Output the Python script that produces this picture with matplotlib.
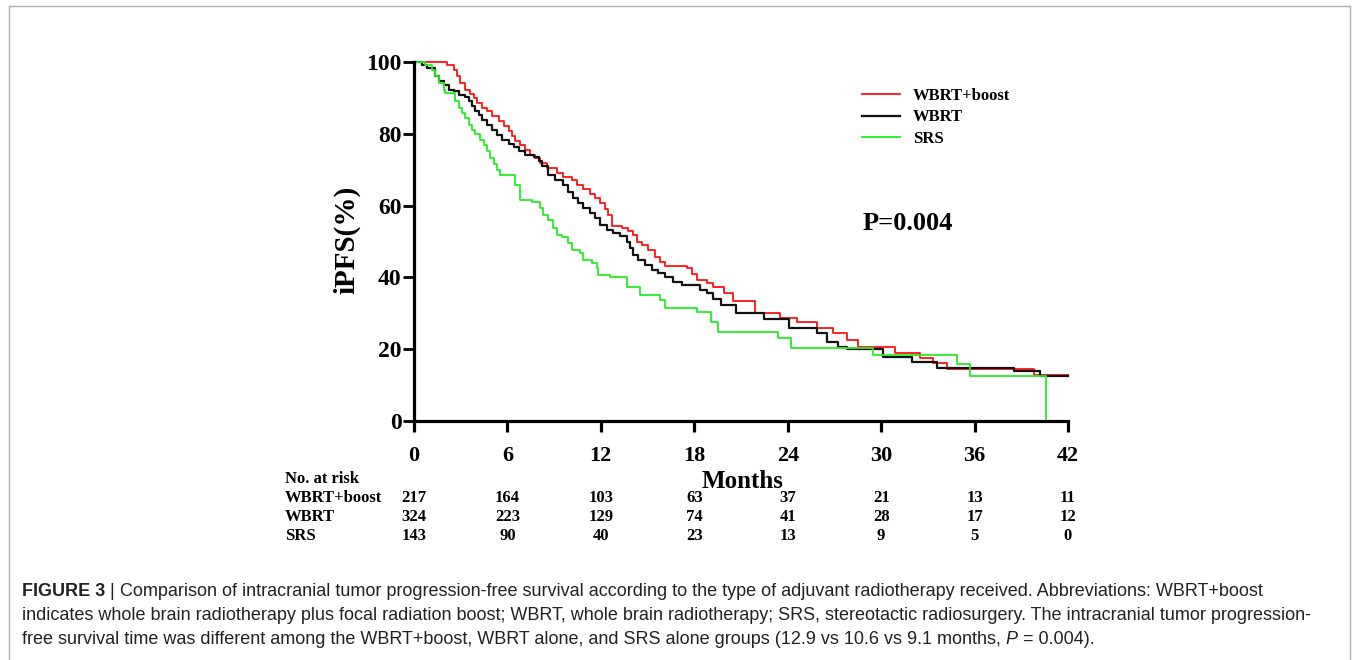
import matplotlib
matplotlib.use("Agg")
import matplotlib.pyplot as plt
from matplotlib.patches import Rectangle
from matplotlib.transforms import blended_transform_factory

# Kaplan-Meier curves (months, iPFS %)
boost_t = [0, 2.1, 2.55, 2.75, 2.98, 3.3, 3.6, 3.83, 4.05, 4.37, 4.69, 5.0, 5.44, 5.76, 6.08,
           6.29, 6.5, 6.83, 7.15, 7.47, 7.79, 8.1, 8.52, 9.16, 9.59, 10.13, 10.45, 10.87, 11.3,
           11.62, 11.95, 12.27, 12.48, 12.7, 13.34, 13.77, 14.09, 14.3, 14.62, 15.05, 15.48,
           15.8, 16.12, 17.5, 17.84, 18.16, 18.8, 19.22, 19.9, 20.5, 21.9, 23.5, 24.6, 25.9,
           26.9, 27.8, 28.5, 30.9, 32.5, 33.3, 34.2, 39.8, 42]
boost_s = [100, 99.1, 97.9, 96.0, 94.2, 92.3, 91.1, 90.0, 88.6, 87.2, 86.3, 84.9, 83.5, 82.1, 80.7,
           79.3, 77.9, 76.8, 75.6, 74.2, 73.3, 71.8, 70.4, 69.2, 68.1, 67.1, 65.7, 64.5, 63.2,
           62.0, 60.6, 59.0, 57.4, 54.3, 53.7, 53.0, 51.8, 49.9, 49.0, 47.6, 45.8,
           44.4, 43.2, 42.5, 40.9, 39.3, 38.5, 37.4, 35.6, 33.5, 30.1, 28.7, 27.6, 25.9,
           24.5, 22.6, 20.6, 18.9, 17.5, 16.2, 14.5, 12.8, 12.8]

wbrt_t = [0, 0.51, 0.83, 1.37, 1.58, 1.9, 2.23, 2.55, 2.87, 3.3, 3.51, 3.73, 3.94, 4.15, 4.37,
          4.69, 5.0, 5.33, 5.65, 6.08, 6.4, 6.72, 7.15, 7.69, 8.0, 8.22, 8.63, 9.06, 9.59, 9.91,
          10.23, 10.55, 10.87, 11.3, 11.62, 11.95, 12.38, 12.8, 13.23, 13.66, 13.87, 14.09,
          14.41, 14.84, 15.27, 15.69, 16.12, 16.65, 17.19, 18.37, 18.8, 19.22, 19.7, 20.7,
          22.5, 24.1, 25.9, 26.5, 27.2, 27.8, 30.1, 32.0, 33.6, 38.5, 40.2, 42]
wbrt_s = [100, 99.1, 98.3, 96.0, 94.6, 93.7, 92.3, 91.8, 90.9, 90.2, 89.0, 87.7, 86.3, 85.2, 83.9,
          82.5, 81.1, 79.8, 78.4, 77.2, 76.2, 75.1, 74.0, 73.5, 72.3, 70.9, 68.5, 67.1, 65.7, 63.9,
          62.0, 60.6, 59.2, 57.9, 56.5, 54.6, 53.2, 52.3, 51.5, 49.9, 48.1, 46.2,
          44.8, 43.5, 42.2, 41.3, 40.2, 38.8, 37.9, 36.5, 35.6, 34.0, 32.3, 30.0,
          28.5, 25.9, 24.5, 22.0, 20.6, 20.0, 17.8, 16.4, 14.8, 13.9, 12.4, 12.4]

srs_t = [0, 0.73, 1.16, 1.37, 1.58, 1.9, 2.0, 2.65, 2.87, 3.08, 3.3, 3.51, 3.73, 3.94, 4.26,
         4.48, 4.69, 4.9, 5.12, 5.33, 5.54, 6.5, 6.8, 7.6, 8.09, 8.3, 8.63, 8.95, 9.16, 9.48,
         9.91, 10.13, 10.66, 10.87, 11.41, 11.73, 11.84, 12.59, 13.66, 14.52, 15.8, 16.1,
         18.2, 19.1, 19.5, 23.4, 24.2, 29.5, 34.9, 35.7, 40.6]
srs_s = [100, 99.1, 97.9, 96.0, 94.2, 92.3, 91.4, 89.0, 87.2, 85.8, 84.4, 82.5, 81.1, 79.9, 78.4,
         77.0, 75.1, 73.3, 71.6, 70.0, 68.4, 65.7, 61.6, 61.0, 59.2, 57.4, 56.0, 53.7, 51.8, 51.2,
         49.5, 47.6, 46.7, 44.8, 43.9, 42.5, 40.7, 40.2, 37.4, 35.1, 33.7, 31.5,
         30.3, 27.6, 24.8, 23.1, 20.3, 18.4, 15.9, 12.5, 0]

x_ticks = [0, 6, 12, 18, 24, 30, 36, 42]
y_ticks = [0, 20, 40, 60, 80, 100]

risk_groups = ['WBRT+boost', 'WBRT', 'SRS']
risk_boost = [217, 164, 103, 63, 37, 21, 13, 11]
risk_wbrt = [324, 223, 129, 74, 41, 28, 17, 12]
risk_srs = [143, 90, 40, 23, 13, 9, 5, 0]

caption_lines = [
    [("FIGURE 3", "bold", "normal"), (" | ", "normal", "normal"),
     ("Comparison of intracranial tumor progression-free survival according to the type of adjuvant "
      "radiotherapy received. Abbreviations: WBRT+boost", "normal", "normal")],
    [("indicates whole brain radiotherapy plus focal radiation boost; WBRT, whole brain radiotherapy; "
      "SRS, stereotactic radiosurgery. The intracranial tumor progression-", "normal", "normal")],
    [("free survival time was different among the WBRT+boost, WBRT alone, and SRS alone groups "
      "(12.9 vs 10.6 vs 9.1 months, ", "normal", "normal"), ("P", "normal", "italic"),
     (" = 0.004).", "normal", "normal")],
]

W, H = 1357, 660
serif = 'Liberation Serif'

fig = plt.figure(figsize=(W / 100, H / 100), dpi=100)
fig.patch.set_facecolor('white')

# outer frame
fig.patches.append(Rectangle((9 / W, -0.05), (1350 - 9) / W, 1.05 - 6 / H,
                             transform=fig.transFigure, fill=False,
                             edgecolor='#b0b0b0', linewidth=1))

ax = fig.add_axes([414 / W, 1 - 421 / H, (1068 - 414) / W, (421 - 62) / H])

ax.step(boost_t, boost_s, where='post', color='#ff1010', lw=1.3, label='WBRT+boost', clip_on=False)
ax.step(wbrt_t, wbrt_s, where='post', color='#111111', lw=1.6, label='WBRT', clip_on=False)
ax.step(srs_t, srs_s, where='post', color='#22ee22', lw=1.3, label='SRS', clip_on=False)

ax.set_xlim(0, 42)
ax.set_ylim(0, 100)
ax.set_xticks(x_ticks)
ax.set_yticks(y_ticks)
for s in ['top', 'right']:
    ax.spines[s].set_visible(False)
for s in ['left', 'bottom']:
    ax.spines[s].set_linewidth(2.3)
ax.tick_params(axis='x', direction='out', length=8, width=2.3, pad=10)
ax.tick_params(axis='y', direction='out', length=8, width=2.0, pad=1)
for lab in ax.get_xticklabels():
    lab.set_fontfamily(serif)
    lab.set_fontweight('bold')
    lab.set_fontsize(16)
for lab in ax.get_yticklabels():
    lab.set_fontfamily(serif)
    lab.set_fontweight('bold')
    lab.set_fontsize(17)

fig.text(347 / W, 1 - 240 / H, 'iPFS(%)', rotation=90, ha='center', va='center',
         fontfamily=serif, fontweight='bold', fontsize=21)
fig.text(743 / W, 1 - 481 / H, 'Months', ha='center', va='center',
         fontfamily=serif, fontweight='bold', fontsize=18)
fig.text(863 / W, 1 - 224 / H, 'P=0.004', ha='left', va='center',
         fontfamily=serif, fontweight='bold', fontsize=19)

ax.legend(loc='upper left', bbox_to_anchor=(862 / W, 1 - 88 / H),
          bbox_transform=fig.transFigure, frameon=False, handlelength=2.3,
          handletextpad=0.75, labelspacing=0.32, borderpad=0, borderaxespad=0,
          prop={'family': serif, 'weight': 'bold', 'size': 12})

# number at risk table
tr = blended_transform_factory(ax.transData, fig.transFigure)
fig.text(285 / W, 1 - 479 / H, 'No. at risk', ha='left', va='center',
         fontfamily=serif, fontweight='bold', fontsize=12)
rows_y = [498, 517, 536]
for name, counts, yy in zip(risk_groups, [risk_boost, risk_wbrt, risk_srs], rows_y):
    fig.text(285 / W, 1 - yy / H, name, ha='left', va='center',
             fontfamily=serif, fontweight='bold', fontsize=12)
    for xt, n in zip(x_ticks, counts):
        ax.text(xt, 1 - yy / H, str(n), transform=tr, ha='center', va='center',
                fontfamily=serif, fontweight='bold', fontsize=12)

# caption, drawn piece by piece
fig.canvas.draw()
renderer = fig.canvas.get_renderer()
cap_y = [591, 616, 640]
for pieces, yy in zip(caption_lines, cap_y):
    x = 22
    for txt, weight, style in pieces:
        t = fig.text(x / W, 1 - yy / H, txt, ha='left', va='center',
                     fontfamily='Liberation Sans', fontweight=weight, fontstyle=style,
                     fontsize=13.0, color='#222222')
        bb = t.get_window_extent(renderer=renderer)
        x += bb.width

fig.savefig('out.png', dpi=100)
